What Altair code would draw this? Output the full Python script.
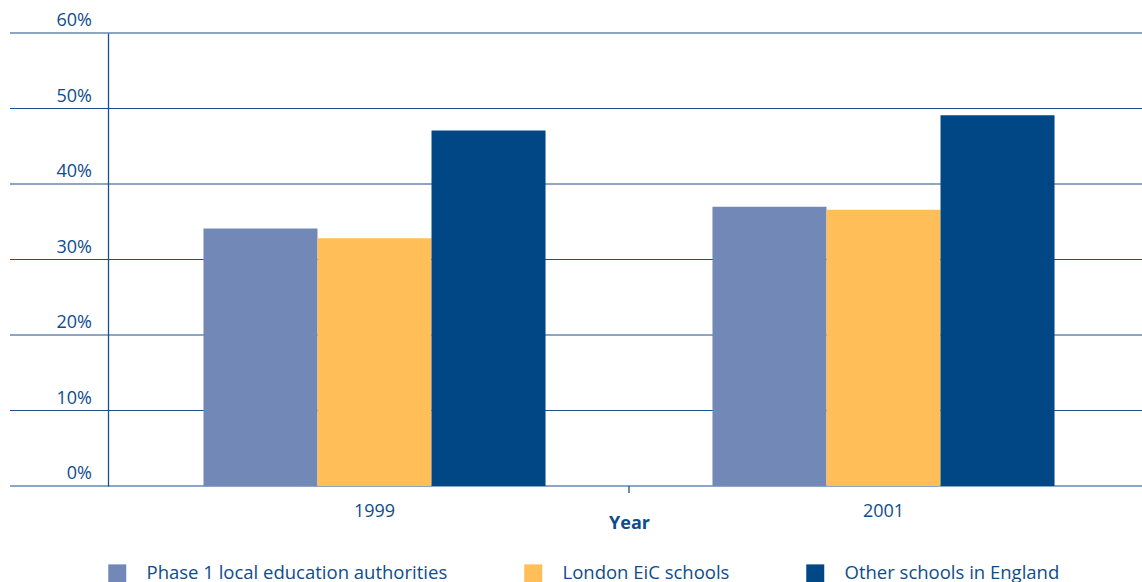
import altair as alt
import pandas as pd

years = ["1999", "2001"]
series = ["Phase 1 local education authorities", "London EiC schools", "Other schools in England"]
phase1 = [34.1, 37.0]
london = [32.8, 36.6]
other = [47.1, 49.1]
colors = ["#7289B7", "#FFBE57", "#014786"]

grid_values = [0, 10, 20, 30, 40, 50, 60]
grid_labels = ["0%", "10%", "20%", "30%", "40%", "50%", "60%"]
tick_years = ["2001"]

rows = []
for i, y in enumerate(years):
    rows.append({"Year": y, "Series": series[0], "Value": phase1[i]})
    rows.append({"Year": y, "Series": series[1], "Value": london[i]})
    rows.append({"Year": y, "Series": series[2], "Value": other[i]})
df = pd.DataFrame(rows)
gdf = pd.DataFrame({"v": grid_values, "label": grid_labels})
tdf = pd.DataFrame({"Year": tick_years})

W, H = 1018, 453
FONT = "Open Sans"
TXT = "#0F4C8A"
LINE = "#1B4F8A"

yscale = alt.Scale(domain=[0, 60], nice=False)
xscale = alt.Scale(domain=years, paddingInner=0, paddingOuter=0)

xaxis = alt.Axis(
    title="Year",
    domain=False,
    ticks=False,
    grid=False,
    labelPadding=16.5,
    labelFont=FONT,
    labelFontSize=18,
    labelColor=TXT,
    labelAngle=0,
    titleFont=FONT,
    titleFontSize=18,
    titleFontWeight="bold",
    titleColor=TXT,
    titleY=42,
    titleBaseline="alphabetic",
)
yaxis = alt.Axis(
    title=None,
    grid=False,
    ticks=False,
    labels=False,
    domain=True,
    domainColor=LINE,
    domainWidth=1.3,
    offset=12,
)

grid = alt.Chart(gdf).mark_rule(color=LINE, strokeWidth=1.2).encode(
    y=alt.Y("v:Q", scale=yscale, axis=yaxis),
    x=alt.value(-110),
    x2=alt.value(W + 4),
)

ylabels = alt.Chart(gdf).mark_text(
    align="right", baseline="alphabetic", dy=-7, fontSize=18, font=FONT, color=TXT
).encode(
    y=alt.Y("v:Q", scale=yscale, axis=yaxis),
    x=alt.value(-28),
    text="label:N",
)

bars = alt.Chart(df).mark_bar(strokeWidth=0).encode(
    x=alt.X("Year:N", scale=xscale, sort=years, axis=xaxis),
    xOffset=alt.XOffset(
        "Series:N", sort=series, scale=alt.Scale(paddingInner=0, paddingOuter=0.732)
    ),
    y=alt.Y("Value:Q", scale=yscale, axis=yaxis),
    color=alt.Color(
        "Series:N",
        sort=series,
        scale=alt.Scale(domain=series, range=colors),
        legend=alt.Legend(
            title=None,
            orient="none",
            legendX=-12,
            legendY=531,
            direction="horizontal",
            columns=3,
            symbolType="square",
            symbolSize=324,
            symbolStrokeWidth=0,
            symbolOpacity=1,
            labelFont=FONT,
            labelFontSize=18.5,
            labelColor=TXT,
            labelOffset=20,
            columnPadding=76,
            labelLimit=400,
        ),
    ),
)

xtick = alt.Chart(tdf).mark_rule(color=LINE, strokeWidth=1.3).encode(
    x=alt.X("Year:N", scale=xscale, sort=years, bandPosition=0, axis=xaxis),
    y=alt.value(H),
    y2=alt.value(H + 7),
)

chart = (
    alt.layer(grid, ylabels, bars, xtick)
    .properties(
        width=W,
        height=H,
        autosize=alt.AutoSizeParams(type="none"),
        padding={"left": 120, "top": 33, "right": 4, "bottom": 96},
    )
    .configure_view(stroke=None)
)

chart.save("out.html", embed_options={"renderer": "svg", "actions": False})
